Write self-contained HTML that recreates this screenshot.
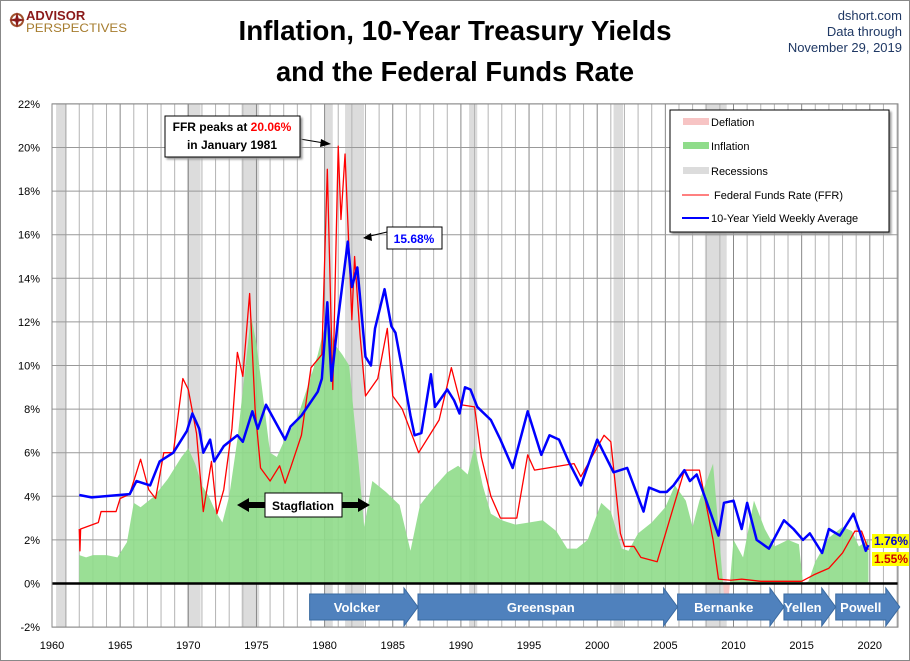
<!DOCTYPE html>
<html><head><meta charset="utf-8"><style>
html,body{margin:0;padding:0;background:#fff}
svg{display:block;font-family:"Liberation Sans",sans-serif}
</style></head><body>
<svg id="chart" width="910" height="661" viewBox="0 0 910 661">
<rect x="0.5" y="0.5" width="909" height="660" fill="#fff" stroke="#888"/>
<g>
<circle cx="17" cy="20" r="6" fill="none" stroke="#a0522d" stroke-width="2"/>
<path d="M17 12 L19 20 L17 28 L15 20 Z M9 20 L17 18 L25 20 L17 22 Z" fill="#8b1a1a"/>
<text x="26" y="20" font-size="13" font-weight="bold" fill="#8b1a1a">ADVISOR</text>
<text x="26" y="32" font-size="12" fill="#a67c2e" textLength="101" lengthAdjust="spacingAndGlyphs">PERSPECTIVES</text>
</g>
<text x="455" y="40" text-anchor="middle" font-size="28" font-weight="bold" textLength="433" lengthAdjust="spacingAndGlyphs">Inflation, 10-Year Treasury Yields</text>
<text x="455" y="81" text-anchor="middle" font-size="28" font-weight="bold" textLength="358" lengthAdjust="spacingAndGlyphs">and the Federal Funds Rate</text>
<g font-size="13" fill="#1f3864" text-anchor="end">
<text x="902" y="20">dshort.com</text>
<text x="902" y="36">Data through</text>
<text x="902" y="52">November 29, 2019</text>
</g>
<defs>
<clipPath id="above"><rect x="52" y="100" width="846" height="483.5"/></clipPath>
<clipPath id="below"><rect x="52" y="583.5" width="846" height="45"/></clipPath>
</defs>
<g id="plot"></g>
</svg>
<script>
// ---- data ----
const recStart=[1960.3,1969.9,1973.9,1980.0,1981.5,1990.6,2001.2,2007.9];
const recEnd=[1961.1,1970.9,1975.2,1980.6,1982.9,1991.2,2001.9,2009.5];
const yTicks=[-2,0,2,4,6,8,10,12,14,16,18,20,22];
const xTicks=[1960,1965,1970,1975,1980,1985,1990,1995,2000,2005,2010,2015,2020];
const t10Years=[1962.0,1962.9,1965.7,1966.2,1967.2,1967.9,1968.9,1969.9,1970.3,1970.8,1971.1,1971.6,1971.9,1972.6,1973.6,1974.0,1974.7,1975.1,1975.7,1977.1,1977.5,1978.3,1979.5,1979.8,1980.2,1980.5,1981.0,1981.7,1982.0,1982.4,1983.0,1983.4,1983.7,1984.4,1984.9,1985.2,1985.7,1986.3,1986.6,1987.1,1987.8,1988.1,1989.0,1989.5,1989.9,1990.3,1990.7,1991.2,1992.2,1992.9,1993.8,1994.9,1995.9,1996.5,1997.2,1997.9,1998.8,2000.0,2000.4,2001.2,2002.2,2003.4,2003.8,2004.6,2005.1,2005.6,2006.4,2006.8,2007.3,2008.0,2008.9,2009.3,2010.0,2010.6,2011.0,2011.7,2012.6,2013.7,2014.4,2015.1,2015.6,2016.5,2017.0,2017.8,2018.8,2019.3,2019.7,2019.9];
const t10Vals=[4.06,3.95,4.1,4.7,4.5,5.6,6.0,7.0,7.8,7.1,6.0,6.6,5.6,6.3,6.8,6.5,7.9,7.1,8.2,6.6,7.2,7.7,8.8,9.4,12.9,9.3,12.2,15.68,13.6,14.5,10.4,10.0,11.7,13.5,11.8,11.5,9.8,7.7,6.8,6.9,9.6,8.1,8.9,8.4,7.8,9.0,8.9,8.1,7.5,6.6,5.3,7.9,5.9,6.8,6.6,5.6,4.5,6.6,6.1,5.1,5.3,3.3,4.4,4.2,4.2,4.5,5.2,4.7,5.0,3.8,2.2,3.7,3.8,2.5,3.7,2.0,1.6,2.9,2.5,2.0,2.3,1.4,2.5,2.2,3.2,2.3,1.5,1.76];
const ffrYears=[1962.0,1962.05,1962.1,1963.4,1963.6,1964.7,1965.0,1965.7,1966.5,1967.1,1967.6,1968.2,1968.9,1969.6,1970.0,1970.6,1971.1,1971.7,1972.1,1972.6,1973.2,1973.6,1974.0,1974.5,1974.9,1975.3,1976.0,1976.7,1977.1,1977.5,1978.3,1979.0,1979.8,1980.2,1980.6,1981.0,1981.2,1981.5,1982.0,1982.2,1982.6,1983.0,1983.9,1984.6,1985.0,1985.7,1986.9,1987.7,1988.4,1989.3,1990.0,1991.0,1991.5,1992.2,1992.9,1994.1,1994.9,1995.4,1998.3,1998.8,2000.5,2001.0,2001.7,2002.0,2002.7,2003.2,2004.4,2006.4,2007.5,2008.0,2008.5,2008.9,2009.8,2010.6,2012.0,2015.0,2015.9,2017.0,2018.0,2018.9,2019.4,2019.9];
const ffrVals=[2.5,1.5,2.5,2.8,3.3,3.3,3.9,4.1,5.7,4.3,3.9,6.0,6.0,9.4,8.9,6.9,3.3,5.6,3.2,4.3,7.1,10.6,9.5,13.3,8.0,5.3,4.7,5.4,4.6,5.3,6.8,9.9,10.5,19.0,8.9,20.06,16.7,19.7,12.1,15.0,11.4,8.6,9.4,11.7,8.6,8.0,6.0,6.8,7.5,9.9,8.2,8.1,5.8,4.0,3.0,3.0,5.9,5.2,5.5,4.9,6.8,6.5,2.3,1.7,1.7,1.2,1.0,5.2,5.2,3.6,2.0,0.2,0.15,0.2,0.1,0.1,0.4,0.7,1.4,2.4,2.4,1.55];
const cpiYears=[1962,1962.5,1963,1964,1964.8,1965.5,1966,1966.5,1967.5,1968.5,1969.5,1970,1970.5,1971,1971.5,1972,1972.5,1973,1973.6,1974.2,1974.6,1975,1975.5,1976,1976.5,1977,1978,1979,1979.5,1980.2,1980.7,1981.3,1981.8,1982.5,1982.9,1983.5,1984.5,1985.5,1986.3,1987,1988,1989,1989.8,1990.5,1991,1991.6,1992.2,1993,1994,1995,1996,1997,1997.8,1998.5,1999.3,2000.3,2001,2001.8,2002.3,2003,2004,2005,2005.7,2006.5,2007,2007.5,2008.5,2009.3,2009.6,2010,2010.7,2011.5,2012.3,2013,2014,2014.8,2015.1,2015.5,2016,2017,2018,2018.7,2019.2,2019.9];
const cpiVals=[1.3,1.2,1.3,1.3,1.2,1.9,3.7,3.5,4.0,4.8,5.8,6.2,5.5,4.5,4.0,3.3,2.8,4.0,6.6,10.0,12.3,11.0,8.5,6.0,5.8,6.5,7.6,9.5,10.5,12.3,11.0,10.5,10.0,5.5,2.6,4.7,4.2,3.6,1.5,3.6,4.4,5.1,5.4,5.0,6.3,4.5,3.2,2.9,2.7,2.8,2.9,2.4,1.6,1.6,2.0,3.7,3.3,1.6,1.5,2.3,2.8,3.5,4.5,3.8,2.6,3.8,5.5,-0.5,-1.0,2.0,1.2,3.8,2.5,1.7,2.0,1.8,0.0,0.1,1.0,2.1,2.6,2.4,1.7,2.0];
const chairs=["Volcker","Greenspan","Bernanke","Yellen","Powell"];
const chairStart=[1978.9,1986.85,2005.9,2013.7,2017.5];
const chairEnd=[1986.85,2005.9,2013.7,2017.5,2022.2];

// ---- axes ----
const X=y=>52+(y-1960)*13.63;
const Y=v=>583.5-v*21.8;
const NS="http://www.w3.org/2000/svg";
const plot=document.getElementById('plot');
function mk(tag,attrs,parent){const e=document.createElementNS(NS,tag);for(const k in attrs)e.setAttribute(k,attrs[k]);(parent||plot).appendChild(e);return e;}

recStart.forEach((s,i)=>{
  const r=mk('rect',{x:X(s),y:Y(22),width:X(recEnd[i])-X(s),height:Y(-2)-Y(22),fill:'#dcdcdc'});
  
  
});
for(let yr=1960;yr<=2022;yr++){
  const l=mk('line',{x1:X(yr),x2:X(yr),y1:Y(22),y2:Y(-2),stroke:yr%5==0?'#888':'#b4b4b4','stroke-width':1});
  
  
}
yTicks.forEach(v=>{
  const l=mk('line',{x1:52,x2:898,y1:Y(v),y2:Y(v),stroke:'#999','stroke-width':1});
  
  
  const t=mk('text',{x:40,y:Y(v)+4,'text-anchor':'end','font-size':11});
  t.textContent=v+'%';
  
  
});
xTicks.forEach(yr=>{
  const t=mk('text',{x:X(yr),y:649,'text-anchor':'middle','font-size':11});
  t.textContent=yr;
  
  
});
let d='M'+X(cpiYears[0])+','+Y(0);
cpiYears.forEach((yr,i)=>{d+=' L'+X(yr)+','+Y(cpiVals[i]);});
d+=' L'+X(cpiYears[cpiYears.length-1])+','+Y(0)+' Z';
const ag=mk('path',{d:d,fill:'#8fdc8a','fill-opacity':0.9,'clip-path':'url(#above)'});


const ap=mk('path',{d:d,fill:'#f7c4c4','clip-path':'url(#below)'});


const z=mk('line',{x1:52,x2:898,y1:Y(0),y2:Y(0),stroke:'#000','stroke-width':2.5});


const border=mk('rect',{x:52,y:Y(22),width:846,height:Y(-2)-Y(22),fill:'none',stroke:'#888'});


function line(xs,vs,col,w){
  let p='';xs.forEach((yr,i)=>{p+=(i==0?'M':' L')+X(yr)+','+Y(vs[i]);});
  return mk('path',{d:p,fill:'none',stroke:col,'stroke-width':w,'stroke-linejoin':'round'});
}
const fl=line(ffrYears,ffrVals,'#ff0000',1.3);


const bl=line(t10Years,t10Vals,'#0000ff',2.5);


chairs.forEach((c,i)=>{
  const x0=X(chairStart[i]),x1=Math.min(X(chairEnd[i]),900),tip=x1,body=x1-14;
  const p=mk('path',{d:`M${x0},594 L${body},594 L${body},588 L${tip},607 L${body},626 L${body},620 L${x0},620 Z`,fill:'#4f81bd',stroke:'#3a6aa0'});
  
  
  const t=mk('text',{x:(x0+body)/2,y:612,'text-anchor':'middle','font-size':13,'font-weight':'bold',fill:'#fff'});
  t.textContent=c;
  
  
});
</script>
<svg style="position:absolute;left:0;top:0" width="910" height="661" font-family="Liberation Sans, sans-serif">
<g>
<line x1="300" y1="139" x2="324" y2="143" stroke="#000"/><path d="M331,144 L321,139 L320,147 Z" fill="#000"/>
<rect x="165" y="116" width="135" height="41" fill="#fff" stroke="#000" filter="drop-shadow(2px 2px 1px #999)"/>
<text x="232" y="131" text-anchor="middle" font-size="12" font-weight="bold">FFR peaks at <tspan fill="#ff0000">20.06%</tspan></text>
<text x="232" y="149" text-anchor="middle" font-size="12" font-weight="bold">in January 1981</text>
</g>
<g>
<line x1="387" y1="232" x2="366" y2="237" stroke="#000"/><path d="M363,238 L371,233 L372,241 Z" fill="#000"/>
<rect x="387" y="227" width="55" height="22" fill="#fff" stroke="#000"/>
<text x="414" y="243" text-anchor="middle" font-size="12" font-weight="bold" fill="#0000ff">15.68%</text>
</g>
<g>
<path d="M237,505 L249,498 L249,502 L265,502 L265,508 L249,508 L249,512 Z" fill="#000"/>
<path d="M370,505 L358,498 L358,502 L342,502 L342,508 L358,508 L358,512 Z" fill="#000"/>
<rect x="265" y="493" width="77" height="24" fill="#fff" stroke="#000"/>
<text x="303" y="510" text-anchor="middle" font-size="12" font-weight="bold">Stagflation</text>
</g>
<g>
<rect x="670" y="110" width="219" height="122" fill="#fff" stroke="#000" filter="drop-shadow(2px 2px 1px #999)"/>
<rect x="683" y="118" width="26" height="7" fill="#f7c4c4"/><text x="711" y="126" font-size="11">Deflation</text>
<rect x="683" y="142" width="26" height="7" fill="#8fdc8a"/><text x="711" y="150" font-size="11">Inflation</text>
<rect x="683" y="167" width="26" height="7" fill="#dcdcdc"/><text x="711" y="175" font-size="11">Recessions</text>
<line x1="682" y1="195" x2="709" y2="195" stroke="#ff0000"/><text x="714" y="199" font-size="11">Federal Funds Rate (FFR)</text>
<line x1="682" y1="218" x2="709" y2="218" stroke="#0000ff" stroke-width="2"/><text x="711" y="222" font-size="11">10-Year Yield Weekly Average</text>
</g>
<g>
<rect x="872" y="534" width="37" height="14" fill="#ffff00"/><text x="874" y="545" font-size="12" font-weight="bold" fill="#0000cc">1.76%</text>
<rect x="872" y="552" width="37" height="14" fill="#ffff00"/><text x="874" y="563" font-size="12" font-weight="bold" fill="#cc0000">1.55%</text>
</g>
</svg>
</body></html>
